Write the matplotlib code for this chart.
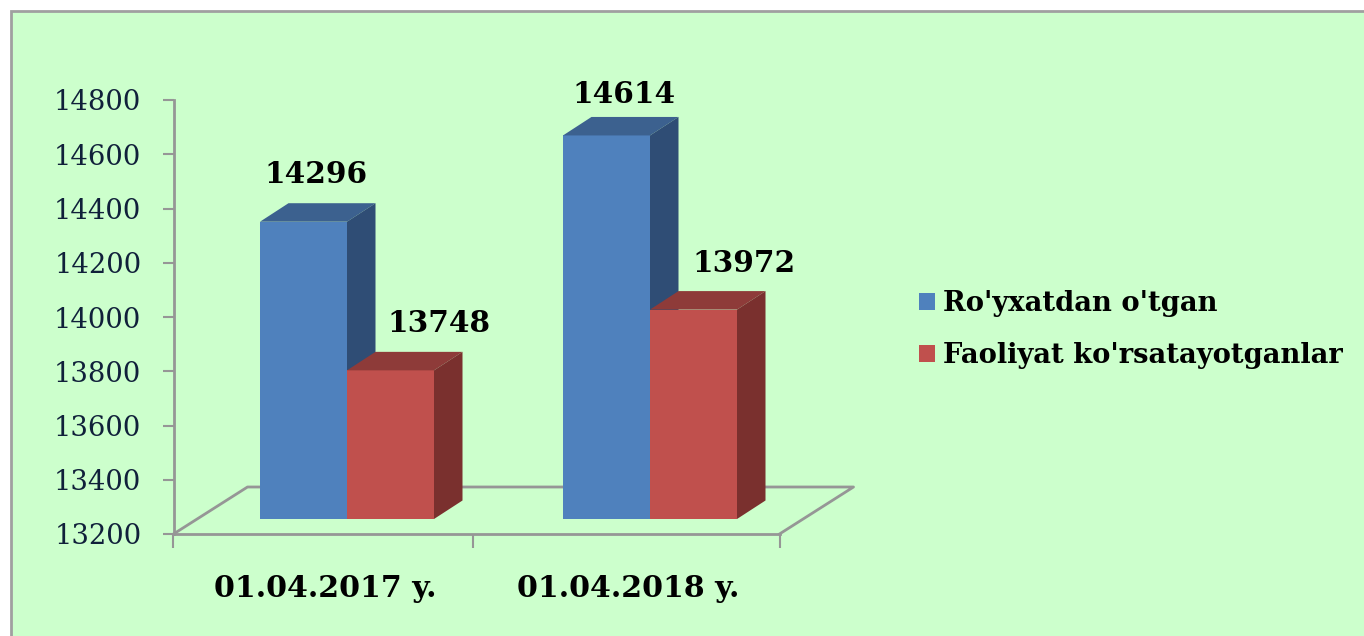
import matplotlib
matplotlib.use('Agg')
import matplotlib.pyplot as plt
import numpy as np
from matplotlib.patches import Polygon, Rectangle

categories = ["01.04.2017 y.", "01.04.2018 y."]
registered = [14296, 14614]
active = [13748, 13972]
series_names = ["Ro'yxatdan o'tgan", "Faoliyat ko'rsatayotganlar"]
y_ticks = [13200, 13400, 13600, 13800, 14000, 14200, 14400, 14600, 14800]

W, H = 1364, 636
BLUE = ("#4F81BD", "#3C618F", "#2F4D75")   # front, top, side
RED = ("#C0504D", "#8E3B39", "#7A302E")
GREY = "#969696"
SERIF = "DejaVu Serif"

fig = plt.figure(figsize=(W / 100, H / 100), dpi=100, facecolor="white")

# green panel, only top and left edge show
fig.add_artist(Rectangle((11 / W, -0.05), 1.1, 1 - 11 / H + 0.05, transform=fig.transFigure,
                         facecolor="#CCFFCC", edgecolor="#A0A0A0", linewidth=2, zorder=-1))

ax = fig.add_axes([173.5 / W, 1 - 534 / H, 606 / W, 434 / H])
ax.patch.set_alpha(0)
ax.set_xlim(-0.5, 1.5)
ax.set_ylim(13200, 14800)

# pixel sizes of the fake 3d converted to data units
px_x = 2.0 / 606
px_y = 1600.0 / 434
bar_w = 87 * px_x
shift = 22 * px_x
lift = 15 * px_y
dx = 28.5 * px_x
dy = 18.5 * px_y

# floor
fx, fy = 74 * px_x, 47 * px_y
ax.plot([-0.5, -0.5 + fx, 1.5 + fx, 1.5], [13200, 13200 + fy, 13200 + fy, 13200],
        color=GREY, lw=2, clip_on=False, zorder=1)


def draw_series(xs, values, colors, label):
    ax.bar(xs, np.array(values) - 13200, bottom=13200 + lift, width=bar_w, color=colors[0],
           label=label, zorder=3, clip_on=False)
    for x, v in zip(xs, values):
        l, r = x - bar_w / 2, x + bar_w / 2
        top = v + lift
        ax.add_patch(Polygon([(l, top), (l + dx, top + dy), (r + dx, top + dy), (r, top)],
                             facecolor=colors[1], edgecolor="none", zorder=3, clip_on=False))
        ax.add_patch(Polygon([(r, 13200 + lift), (r + dx, 13200 + lift + dy),
                              (r + dx, top + dy), (r, top)],
                             facecolor=colors[2], edgecolor="none", zorder=3, clip_on=False))


pos = np.arange(len(categories))
draw_series(pos + shift - bar_w / 2, registered, BLUE, series_names[0])
draw_series(pos + shift + bar_w / 2, active, RED, series_names[1])

# value labels, offset from the bar's back top corner in px
for xs, values, offs in [(pos + shift - bar_w / 2, registered, [(-2, 14), (3, 8)]),
                         (pos + shift + bar_w / 2, active, [(34, 14), (36, 13)])]:
    for x, v, (ox, oy) in zip(xs, values, offs):
        ax.annotate(str(v), (x + dx / 2, v + lift + dy), xytext=(ox, oy), textcoords="offset pixels",
                    ha="center", va="bottom", fontsize=21.3, fontweight="bold",
                    family=SERIF, color="black", zorder=5, annotation_clip=False)

for side in ["top", "right"]:
    ax.spines[side].set_visible(False)
for side in ["left", "bottom"]:
    ax.spines[side].set_color(GREY)
    ax.spines[side].set_linewidth(2)

ax.set_yticks(y_ticks)
ax.set_yticklabels([str(t) for t in y_ticks], family=SERIF, fontsize=19.7, color="#10203A")
ax.tick_params(axis="y", length=8, width=1.5, color=GREY, pad=15)

ax.set_xticks([-0.5, 0.488, 1.5])
ax.set_xticklabels([])
ax.tick_params(axis="x", which="major", length=10, width=1.5, color=GREY)
ax.set_xticks(pos, minor=True)
ax.set_xticklabels(categories, minor=True, family=SERIF, fontweight="bold", fontsize=21.6, color="black")
ax.tick_params(axis="x", which="minor", length=0, pad=29)

leg = fig.legend(loc="upper left", bbox_to_anchor=(919 / W, 1 - 290 / H), frameon=False,
                 prop={"family": "DejaVu Serif", "weight": "bold", "size": 19.7},
                 handlelength=0.57, handleheight=0.57, handletextpad=0.3, labelspacing=0.93,
                 borderpad=0, borderaxespad=0)

fig.savefig("out.png", dpi=100, facecolor="white")
